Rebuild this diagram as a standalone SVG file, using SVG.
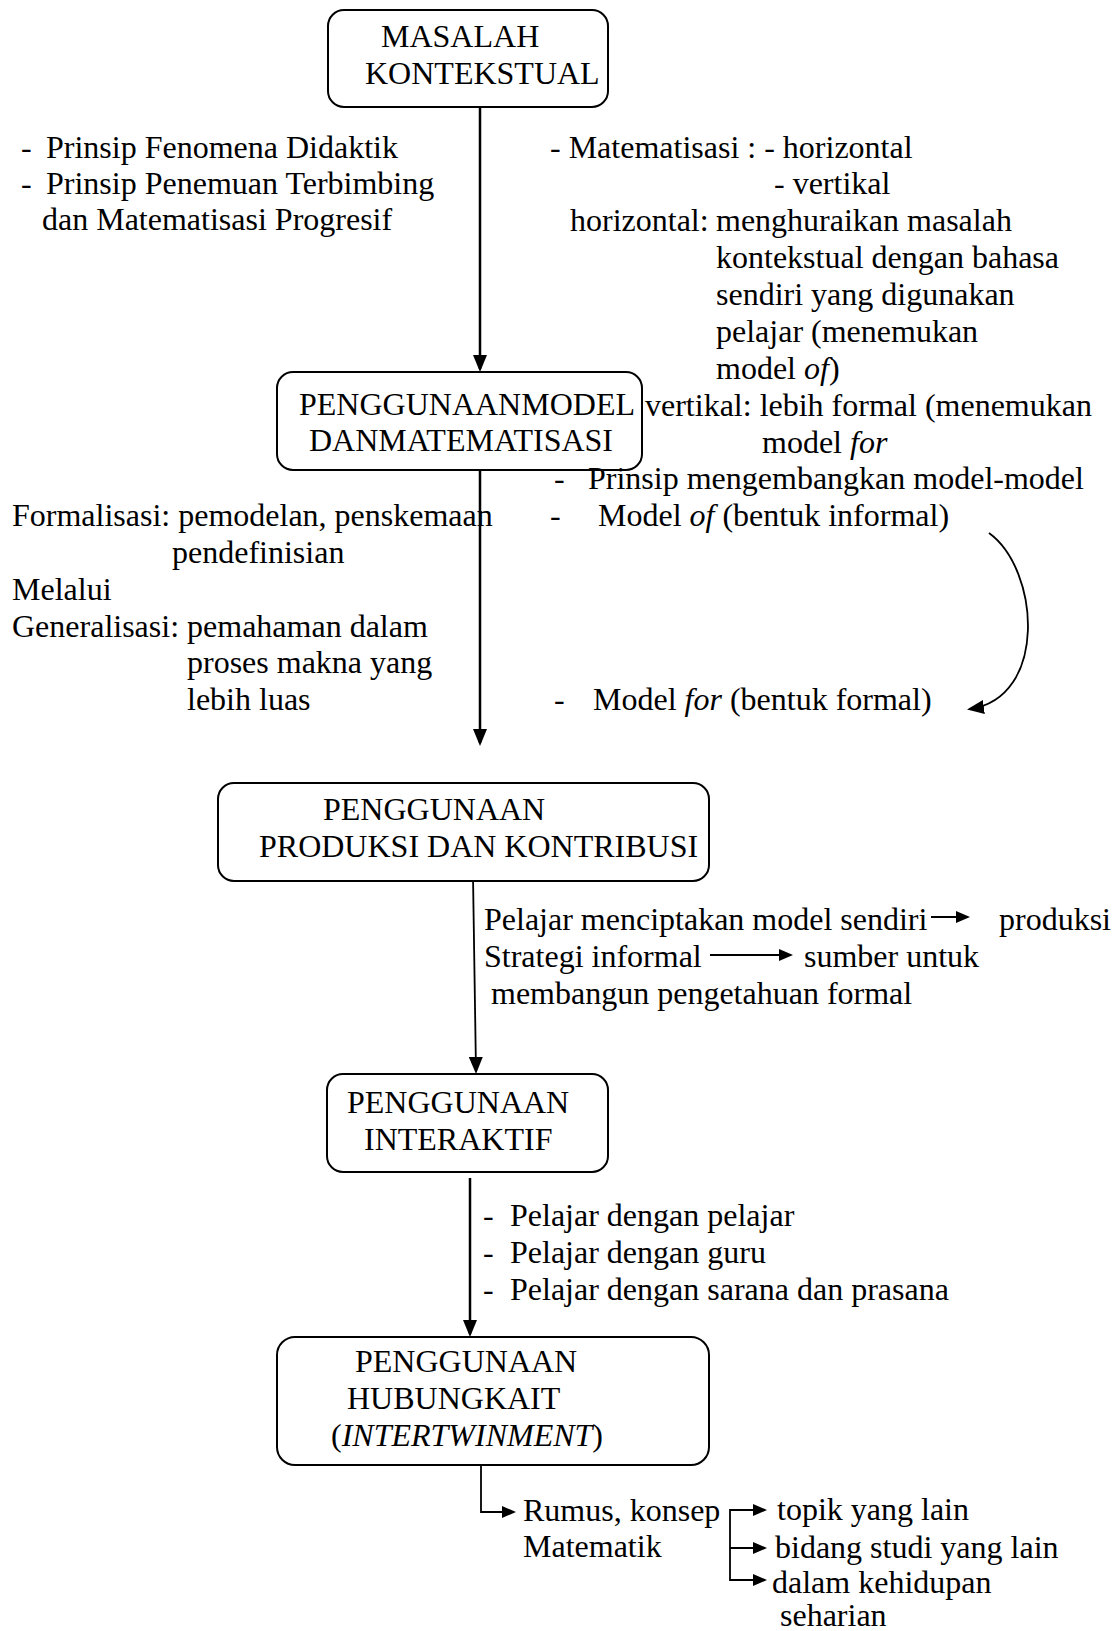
<svg xmlns="http://www.w3.org/2000/svg" width="1118" height="1631" viewBox="0 0 1118 1631">
  <style>
    text { font-family: "Liberation Serif", "Times New Roman", serif; font-size: 32px; fill: #000; }
    .box { fill: #fff; stroke: #000; stroke-width: 2; }
    .conn { fill: none; stroke: #000; stroke-width: 2.5; }
    .thin { fill: none; stroke: #000; stroke-width: 1.8; }
    .it { font-style: italic; }
  </style>
  <defs>
    <marker id="arrow" markerUnits="userSpaceOnUse" markerWidth="18" markerHeight="14" refX="14" refY="7" orient="auto">
      <path d="M0,0 L17,7 L0,14 z" fill="#000"/>
    </marker>
    <marker id="arrowSmall" markerUnits="userSpaceOnUse" markerWidth="15" markerHeight="12" refX="12" refY="6" orient="auto">
      <path d="M0,0 L14,6 L0,12 z" fill="#000"/>
    </marker>
  </defs>

  <rect width="1118" height="1631" fill="#fff"/>

  <!-- connectors -->
  <g id="connectors">
    <path class="conn" d="M480 107 V369" marker-end="url(#arrow)"/>
    <path class="conn" d="M480 470 V743" marker-end="url(#arrow)"/>
    <path class="thin" d="M473 876 L476 1071" marker-end="url(#arrow)"/>
    <path class="conn" d="M470 1178 V1334" marker-end="url(#arrow)"/>
    <path class="thin" d="M481 1465 V1512 H514" marker-end="url(#arrowSmall)"/>
    <path class="thin" d="M730 1510 H765" marker-end="url(#arrowSmall)"/>
    <path class="thin" d="M730 1509 V1580 H765" marker-end="url(#arrowSmall)"/>
    <path class="thin" d="M730 1548 H765" marker-end="url(#arrowSmall)"/>
    <path class="thin" d="M931 917 H968" marker-end="url(#arrowSmall)"/>
    <path class="thin" d="M710 955 H791" marker-end="url(#arrowSmall)"/>
    <path fill="none" stroke="#000" stroke-width="1.8" d="M989 533 C1040 570, 1048 698, 970 709" marker-end="url(#arrow)"/>
  </g>

  <!-- node: contextual problem -->
  <g id="node-masalah">
    <rect class="box" x="328" y="10" width="280" height="97" rx="16"/>
    <text x="381" y="47">MASALAH</text>
    <text x="365" y="84">KONTEKSTUAL</text>
  </g>

  <!-- node: models and mathematisation -->
  <g id="node-model">
    <rect class="box" x="277" y="372" width="365" height="98" rx="16"/>
    <text x="299" y="415">PENGGUNAANMODEL</text>
    <text x="309" y="451">DANMATEMATISASI</text>
  </g>

  <!-- node: production and contribution -->
  <g id="node-produksi">
    <rect class="box" x="218" y="783" width="491" height="98" rx="16"/>
    <text x="323" y="820">PENGGUNAAN</text>
    <text x="259" y="857">PRODUKSI DAN KONTRIBUSI</text>
  </g>

  <!-- node: interactivity -->
  <g id="node-interaktif">
    <rect class="box" x="327" y="1074" width="281" height="98" rx="16"/>
    <text x="347" y="1113">PENGGUNAAN</text>
    <text x="364" y="1150">INTERAKTIF</text>
  </g>

  <!-- node: intertwinement -->
  <g id="node-hubungkait">
    <rect class="box" x="277" y="1337" width="432" height="128" rx="18"/>
    <text x="355" y="1372">PENGGUNAAN</text>
    <text x="347" y="1409">HUBUNGKAIT</text>
    <text x="331" y="1446">(<tspan class="it">INTERTWINMENT</tspan>)</text>
  </g>

  <!-- principles, left column -->
  <g id="notes-principles">
    <text y="158"><tspan x="21">-</tspan><tspan x="46">Prinsip Fenomena Didaktik</tspan></text>
    <text y="194"><tspan x="21">-</tspan><tspan x="46">Prinsip Penemuan Terbimbing</tspan></text>
    <text x="42" y="230">dan Matematisasi Progresif</text>
  </g>

  <!-- mathematisation, right column -->
  <g id="notes-mathematisation">
    <text x="550" y="158">- Matematisasi : - horizontal</text>
    <text x="774" y="194">- vertikal</text>
    <text y="231"><tspan x="570">horizontal:</tspan><tspan x="716">menghuraikan masalah</tspan></text>
    <text x="716" y="268">kontekstual dengan bahasa</text>
    <text x="716" y="305">sendiri yang digunakan</text>
    <text x="716" y="342">pelajar (menemukan</text>
    <text x="716" y="379">model <tspan class="it">of</tspan>)</text>
    <text x="645" y="416">vertikal: lebih formal (menemukan</text>
    <text x="762" y="453">model <tspan class="it">for</tspan></text>
    <text y="489"><tspan x="554">-</tspan><tspan x="588">Prinsip mengembangkan model-model</tspan></text>
    <text y="526"><tspan x="550">-</tspan><tspan x="598">Model <tspan class="it">of</tspan> (bentuk informal)</tspan></text>
    <text y="710"><tspan x="554">-</tspan><tspan x="593">Model <tspan class="it">for</tspan> (bentuk formal)</tspan></text>
  </g>

  <!-- formalisation and generalisation, left column -->
  <g id="notes-formalisation">
    <text x="12" y="526">Formalisasi: pemodelan, penskemaan</text>
    <text x="172" y="563">pendefinisian</text>
    <text x="12" y="600">Melalui</text>
    <text x="12" y="637">Generalisasi: pemahaman dalam</text>
    <text x="187" y="673">proses makna yang</text>
    <text x="187" y="710">lebih luas</text>
  </g>

  <!-- production notes -->
  <g id="notes-produksi">
    <text x="484" y="930">Pelajar menciptakan model sendiri</text>
    <text x="999" y="930">produksi</text>
    <text x="484" y="967">Strategi informal</text>
    <text x="804" y="967">sumber untuk</text>
    <text x="491" y="1004">membangun pengetahuan formal</text>
  </g>

  <!-- interaction notes -->
  <g id="notes-interaktif">
    <text y="1226"><tspan x="483">-</tspan><tspan x="510">Pelajar dengan pelajar</tspan></text>
    <text y="1263"><tspan x="483">-</tspan><tspan x="510">Pelajar dengan guru</tspan></text>
    <text y="1300"><tspan x="483">-</tspan><tspan x="510">Pelajar dengan sarana dan prasana</tspan></text>
  </g>

  <!-- intertwinement notes -->
  <g id="notes-hubungkait">
    <text x="523" y="1521">Rumus, konsep</text>
    <text x="523" y="1557">Matematik</text>
    <text x="777" y="1520">topik yang lain</text>
    <text x="775" y="1558">bidang studi yang lain</text>
    <text x="772" y="1593">dalam kehidupan</text>
    <text x="780" y="1626">seharian</text>
  </g>
</svg>
